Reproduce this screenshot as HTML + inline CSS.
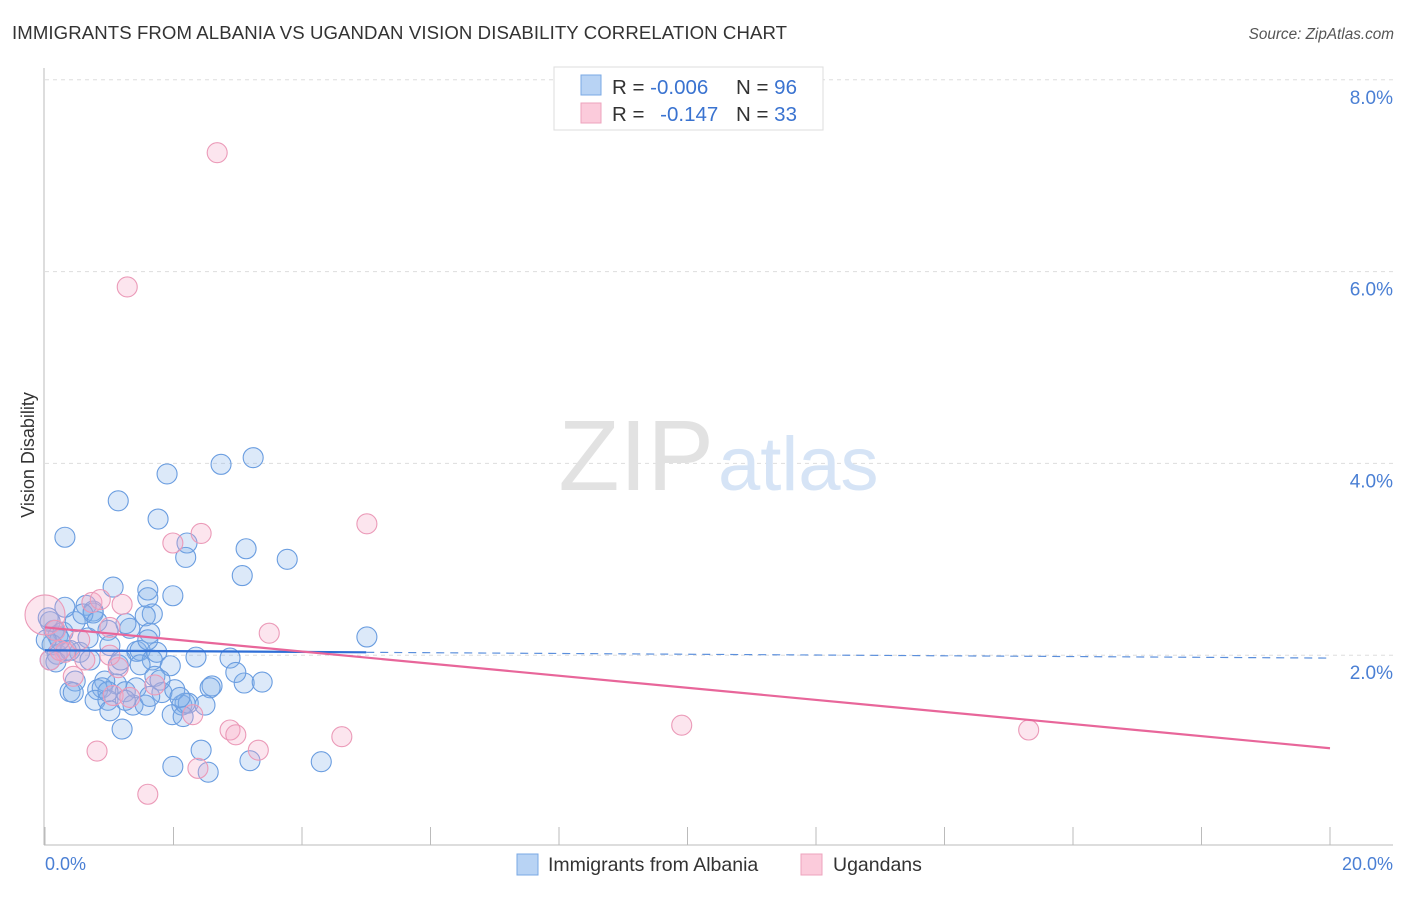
<!DOCTYPE html>
<html><head><meta charset="utf-8"><style>
body{margin:0;background:#fff;font-family:"Liberation Sans",sans-serif;}
svg text{font-family:"Liberation Sans",sans-serif;}
</style></head><body>
<svg id="c" width="1406" height="892" xmlns="http://www.w3.org/2000/svg">
<text x="12" y="39" font-size="18.6" fill="#333" textLength="775">IMMIGRANTS FROM ALBANIA VS UGANDAN VISION DISABILITY CORRELATION CHART</text>
<text x="1394" y="39" font-size="15.3" fill="#555" font-style="italic" text-anchor="end">Source: ZipAtlas.com</text>
<g id="grid"></g>
<text x="714" y="490" font-size="100" fill="#e2e2e2" text-anchor="end" font-family="Liberation Serif,serif">ZIP</text>
<text x="718" y="490" font-size="76" fill="#d6e4f6">atlas</text>
<line x1="44" y1="68" x2="44" y2="845" stroke="#bbb"/>
<line x1="44" y1="845" x2="1393" y2="845" stroke="#bbb"/>
<g id="ticks"></g>
<g id="pts"></g>
<g id="trend"></g>
<text x="28" y="461" font-size="18" fill="#333" text-anchor="middle" transform="rotate(-90 28 455)">Vision Disability</text>
<text x="45" y="870" font-size="18" fill="#4a7fd4">0.0%</text>
<text x="1393" y="870" font-size="18" fill="#4a7fd4" text-anchor="end">20.0%</text>
<g>
<rect x="554" y="67" width="269" height="63" fill="#fff" stroke="#ddd"/>
<rect x="581" y="75" width="20" height="20" fill="#b8d3f4" stroke="#7aa8e4"/>
<rect x="581" y="103" width="20" height="20" fill="#fbcbdb" stroke="#eea3bd"/>
<text x="612" y="94" font-size="20.5" fill="#333">R = <tspan fill="#3a73d0">-0.006</tspan></text>
<text x="736" y="94" font-size="20.5" fill="#333">N = <tspan fill="#3a73d0">96</tspan></text>
<text x="612" y="121" font-size="20.5" fill="#333">R = <tspan fill="#3a73d0" dx="10">-0.147</tspan></text>
<text x="736" y="121" font-size="20.5" fill="#333">N = <tspan fill="#3a73d0">33</tspan></text>
</g>
<g>
<rect x="517" y="854" width="21" height="21" fill="#b8d3f4" stroke="#7aa8e4"/>
<text x="548" y="871" font-size="19.5" fill="#333">Immigrants from Albania</text>
<rect x="801" y="854" width="21" height="21" fill="#fbcbdb" stroke="#eea3bd"/>
<text x="833" y="871" font-size="19.5" fill="#333">Ugandans</text>
</g>
</svg>
<script>
const yTicks=[2,4,6,8];
const xTicks=[0,2,4,6,8,10,12,14,16,18,20];
const blueX=[0.31,1.14,1.90,1.76,2.74,3.24,2.21,2.19,3.13,3.07,3.77,1.99,1.60,1.60,1.67,1.06,0.64,0.75,0.75,0.08,0.14,0.20,0.28,0.47,0.59,0.98,1.32,1.56,1.26,0.11,0.19,0.33,0.54,0.08,0.17,0.39,0.70,1.01,1.14,1.43,1.48,1.67,1.74,1.95,2.35,1.11,0.93,0.47,0.39,0.44,0.82,0.89,0.78,0.98,1.01,1.20,1.25,1.37,1.42,1.56,1.71,1.82,1.98,2.13,2.18,2.23,2.15,2.60,2.57,3.10,3.38,2.43,1.99,2.54,3.19,4.30,5.01,2.88,2.97,1.63,1.60,1.18,0.67,0.23,0.02,0.05,0.31,2.02,2.10,1.25,1.48,1.79,0.98,2.49,1.63,0.81];
const blueY=[3.23,3.61,3.89,3.42,3.99,4.06,3.17,3.02,3.11,2.83,3.00,2.62,2.68,2.60,2.43,2.71,2.52,2.46,2.44,2.35,2.26,2.20,2.24,2.35,2.43,2.26,2.28,2.41,2.33,2.11,2.01,2.05,2.03,1.95,1.93,2.05,1.95,2.10,1.90,2.04,2.05,1.95,2.03,1.89,1.98,1.70,1.73,1.73,1.62,1.61,1.64,1.66,1.53,1.53,1.42,1.23,1.62,1.48,1.66,1.48,1.78,1.61,1.38,1.48,1.50,1.50,1.36,1.68,1.66,1.71,1.72,1.01,0.84,0.78,0.90,0.89,2.19,1.97,1.82,2.23,2.16,1.95,2.18,2.16,2.16,2.39,2.50,1.64,1.56,1.53,1.90,1.74,1.62,1.48,1.57,2.35];
const pinkX=[2.68,1.28,5.01,2.43,1.99,3.49,9.91,15.31,0.0,0.73,1.20,1.01,0.31,0.16,0.08,0.62,1.14,0.44,1.06,1.71,2.30,2.88,2.97,3.32,4.62,0.81,2.38,1.60,1.32,0.54,1.01,0.23,0.86];
const pinkY=[7.24,5.84,3.37,3.27,3.17,2.23,1.27,1.22,2.42,2.55,2.53,2.29,2.03,2.26,1.95,1.95,1.87,1.78,1.58,1.69,1.38,1.22,1.17,1.01,1.15,1.00,0.82,0.55,1.56,2.16,2.00,2.05,2.58];
const blueTrend=[2.05,1.97];
const pinkTrend=[2.29,1.03];
const blueSolidEnd=5.0;

const NS="http://www.w3.org/2000/svg";
const X=v=>45+v*64.25, Y=v=>847-v*95.9;
function mk(t,a,p){const e=document.createElementNS(NS,t);for(const k in a)e.setAttribute(k,a[k]);p.appendChild(e);return e;}
const grid=document.getElementById('grid');
yTicks.forEach(t=>{
 const l=mk('line',{x1:45,x2:1393,y1:Y(t),y2:Y(t),stroke:'#ddd','stroke-dasharray':'4,4'},grid);
 
 
 const tx=mk('text',{x:1393,y:Y(t)+24,'font-size':19,fill:'#4a7fd4','text-anchor':'end'},grid);
 tx.textContent=t.toFixed(1)+'%';
 
 
});
const ticks=document.getElementById('ticks');
xTicks.forEach(t=>{
 const l=mk('line',{x1:X(t),x2:X(t),y1:827,y2:845,stroke:'#bbb'},ticks);
 
 
});
const pts=document.getElementById('pts');
blueX.forEach((x,i)=>{
 const c=mk('circle',{cx:X(x),cy:Y(blueY[i]),r:10,fill:'rgba(130,175,235,0.28)',stroke:'#6a9de0','stroke-width':1.1},pts);
 
 
});
pinkX.forEach((x,i)=>{
 const c=mk('circle',{cx:X(x),cy:Y(pinkY[i]),r:i==8?20:10,fill:'rgba(245,170,198,0.3)',stroke:'#eb9ab8','stroke-width':1.1},pts);
 
 
});
const tr=document.getElementById('trend');
const bAt=v=>blueTrend[0]+(blueTrend[1]-blueTrend[0])*v/20;
let l1=mk('line',{x1:X(0),y1:Y(bAt(0)),x2:X(blueSolidEnd),y2:Y(bAt(blueSolidEnd)),stroke:'#2f6fd6','stroke-width':2.2},tr);


let l2=mk('line',{x1:X(blueSolidEnd),y1:Y(bAt(blueSolidEnd)),x2:X(20),y2:Y(bAt(20)),stroke:'#5b8fdc','stroke-width':1.2,'stroke-dasharray':'8,6'},tr);


let l3=mk('line',{x1:X(0),y1:Y(pinkTrend[0]),x2:X(20),y2:Y(pinkTrend[1]),stroke:'#e8669a','stroke-width':2.2},tr);


</script>
</body></html>
